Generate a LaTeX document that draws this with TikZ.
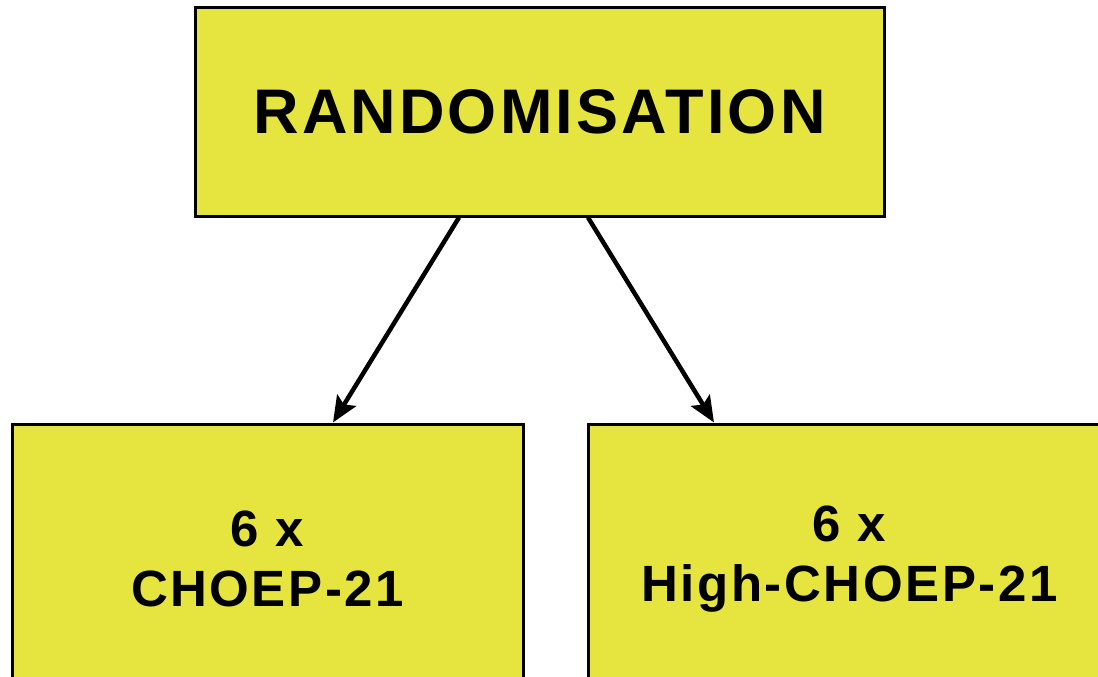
\documentclass[tikz,border=0pt]{standalone}
\usepackage{fontspec}
\setmainfont{Liberation Sans}[LetterSpace=5]
\usetikzlibrary{arrows.meta}
\definecolor{boxyellow}{HTML}{E6E43F}
\tikzset{
  box/.style={draw=black, line width=3pt, fill=boxyellow, inner sep=0pt, align=center, font=\bfseries},
  conn/.style={line width=4.5pt, -{Stealth[length=26pt,width=22pt,inset=5pt]}}
}
\begin{document}
\begin{tikzpicture}[x=1pt,y=-1pt]
\useasboundingbox (0,0) rectangle (1098,677);
\clip (0,0) rectangle (1098,677);
\node[box, minimum width=689pt, minimum height=208pt, font=\bfseries\fontsize{63}{70}\selectfont] (top) at (539.5,112) {RANDOMISATION};
\node[box, minimum width=511pt, minimum height=270pt, font=\bfseries\fontsize{51}{60}\selectfont] (left) at (267.5,559) {6 x\\CHOEP-21};
\node[box, minimum width=523pt, minimum height=270pt, font=\bfseries\fontsize{51}{60}\selectfont] (right) at (849.5,559) {6 x\\High-CHOEP-21};
\draw[conn] ([xshift=-80.5pt]top.south) -- ([xshift=65.5pt]left.north);
\draw[conn] ([xshift=48.5pt]top.south) -- ([xshift=-135.5pt]right.north);
\end{tikzpicture}
\end{document}
